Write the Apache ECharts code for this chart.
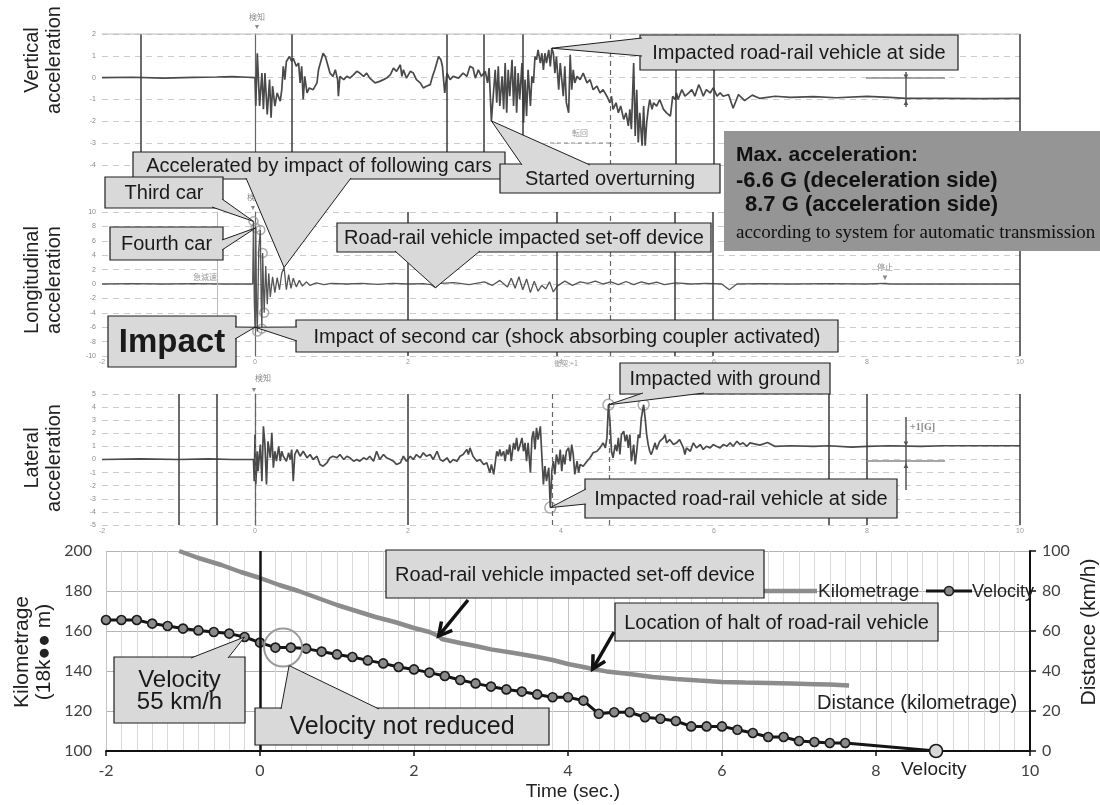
<!DOCTYPE html>
<html>
<head>
<meta charset="utf-8">
<script src="https://cdn.jsdelivr.net/npm/echarts@6/dist/echarts.min.js"></script>
<style>
html, body { margin: 0; padding: 0; background: #fff; }
#chart { width: 1100px; height: 805px; }
</style>
</head>
<body>
<div id="chart"></div>
<script>
"use strict"

// 上段3枚: 加速度波形 [時間(s), 加速度(G)]
var vertAccel = [[-2,0],[-1.6,0.02],[-1.2,-0.02],[-0.8,0.01],[-0.5,0.03],[-0.3,0.05],[-0.1,0.02],[0,0],
  [0.01,-1.3],[0.03,1.12],[0.06,-1.3],[0.09,0.21],[0.11,-1.44],[0.13,0.21],[0.16,-1.68],[0.19,-0.09],[0.21,-1.83],[0.23,-0.39],[0.26,-1.3],[0.29,-0.7],[0.33,-1.08],[0.35,-0.55],[0.37,0.52],[0.39,-0.09],[0.41,0.74],[0.45,0.97],[0.48,0.74],[0.5,0.89],[0.54,0.52],[0.57,0.67],[0.59,-0.24],[0.61,0.52],[0.63,-1.0],[0.65,0.06],[0.68,-0.7],[0.71,-0.47],[0.76,-0.55],[0.81,-0.24],[0.83,0.36],[0.86,0.74],[0.89,1.12],[0.92,0.97],[0.95,0.59],[0.98,0.21],[1.02,0.06],[1.05,0.36],[1.08,-0.09],[1.09,-0.85],[1.11,0.06],[1.16,-0.09],[1.2,0.06],[1.24,-0.02],[1.29,0.14],[1.33,0.29],[1.37,0.21],[1.42,0.06],[1.46,0.21],[1.5,-0.02],[1.57,-0.24],[1.63,-0.17],[1.68,-0.09],[1.72,-0.02],[1.77,0.14],[1.81,0.44],[1.85,0.29],[1.9,0.59],[1.92,0.06],[1.94,0.36],[1.98,-0.02],[2.03,0.29],[2.07,0.21],[2.11,-0.09],[2.16,-0.24],[2.2,-0.47],[2.24,-0.39],[2.29,-0.32],[2.32,0.06],[2.35,0.36],[2.4,0.97],[2.43,0.82],[2.45,0.52],[2.48,-0.7],[2.51,0.21],[2.55,-0.09],[2.59,0.06],[2.66,-0.02],[2.72,0.21],[2.77,0.06],[2.81,0.52],[2.85,0.44],[2.88,-0.02],[2.92,0.36],[2.96,0.06],[3.01,0.29],[3.04,-0.24],[3.06,0.44],[3.09,-1.98],
  [3.14,0.36],[3.16,-1.15],[3.18,0.52],[3.2,-1.3],[3.23,0.06],[3.25,-1.45],[3.27,0.67],[3.29,-1.61],[3.31,0.36],[3.33,-0.85],[3.36,0.82],[3.38,-1.3],[3.4,0.52],[3.42,-1.61],[3.44,0.21],[3.46,-1.0],[3.49,0.67],[3.51,-2.06],[3.53,-0.09],[3.55,-1.76],[3.57,0.36],[3.6,-1.3],[3.62,0.06],[3.64,-0.24],[3.66,0.97],[3.68,0.82],[3.7,1.27],[3.73,0.67],[3.75,1.12],[3.77,0.36],[3.79,1.12],[3.81,0.67],[3.84,1.27],[3.86,0.52],[3.88,1.35],[3.9,1.12],[3.92,0.21],[3.94,0.97],[3.97,-0.55],[3.99,0.67],[4.01,-0.09],[4.03,-0.85],[4.05,0.52],[4.07,-1.15],[4.1,-1.61],[4.12,1.05],[4.14,-0.55],[4.16,0.36],[4.18,-0.24],[4.21,0.06],[4.25,-0.09],[4.29,0.21],[4.34,-0.24],[4.38,-0.09],[4.42,-0.55],[4.47,-0.39],[4.51,-0.7],[4.55,-0.55],[4.6,-0.85],[4.64,-1.15],[4.66,-0.85],[4.68,-1.45],[4.72,-1.15],[4.75,-1.61],[4.78,-1.3],[4.82,-1.91],[4.85,-1.61],[4.88,-2.21],[4.9,-1.45],[4.92,-2.36],[4.95,0.67],[4.97,-2.67],[4.99,-0.55],[5.01,-2.97],[5.03,-1.61],[5.06,-3.12],[5.08,-1.3],[5.1,-3.12],[5.12,-2.06],[5.14,-1.45],[5.16,-1.0],[5.19,-1.45],[5.21,-1.15],[5.25,-1.3],[5.29,-1.0],[5.34,-1.45],[5.38,-1.61],[5.43,-1.76],[5.46,-0.85],[5.49,-1.0],[5.51,-0.7],[5.53,-1.0],[5.58,-0.55],[5.62,-0.85],[5.67,-0.7],[5.71,-0.55],[5.75,-0.85],[5.8,-0.32],[5.83,-0.55],[5.86,-0.85],[5.9,-0.55],[5.95,-0.7],[5.99,-0.47],[6.04,-0.85],[6.08,-0.7],[6.12,-0.85],[6.19,-0.77],[6.25,-1.4],[6.32,-0.77],
  [6.4,-1.05],[6.5,-0.8],[6.6,-0.95],[6.8,-0.85],[7.0,-0.9],[7.3,-0.87],[7.6,-0.92],[8.0,-0.86],[8.3,-0.9],[8.5,-0.95],[9.0,-0.95],[9.5,-0.96],[10,-0.95]];

var longAccel = [[-2,0],[-1.6,0.05],[-1.2,0],[-0.8,0.05],[-0.4,0],[-0.03,0],
  [-0.02,8.7],[-0.01,-2.0],[0,-6.0],[0.01,7.8],[0.02,-3.0],[0.03,-6.6],[0.05,5.0],[0.07,7.5],[0.08,-2.0],[0.09,-6.2],[0.1,4.3],[0.11,0],[0.12,-4.0],[0.14,2.5],[0.16,-2.8],[0.18,1.5],[0.2,-1.8],[0.23,1.0],[0.26,-1.2],[0.29,0.9],[0.32,-0.8],[0.35,1.5],[0.38,2.3],[0.41,-0.8],[0.44,1.3],[0.47,-0.6],[0.5,0.8],[0.54,-0.4],[0.58,0.5],[0.62,-0.3],[0.67,0.3],[0.72,-0.2],[0.8,0.15],[0.9,-0.1],[1.0,0.1],[1.2,0],[1.4,0.1],[1.6,-0.05],[1.8,0.1],[2.0,0],[2.2,0.05],[2.3,-0.1],[2.36,-0.5],[2.42,0.1],[2.6,0.2],[2.8,-0.1],[3.0,0.3],[3.1,-0.2],[3.2,0.5],[3.3,-0.4],[3.35,0.8],[3.4,-0.6],[3.45,1.0],[3.5,-0.8],[3.55,0.7],[3.6,-1.2],[3.65,0.4],[3.7,-1.0],[3.75,-0.2],[3.8,-0.7],[3.85,0.3],[3.9,-1.1],[3.95,-0.3],[4.05,0.4],[4.15,-0.2],[4.25,0.3],[4.35,0.1],[4.45,0.4],[4.55,0],[4.65,0.3],[4.75,-0.1],[4.85,0.35],[4.95,-0.1],[5.05,0.3],[5.15,0],[5.25,0.25],[5.35,-0.1],[5.5,0.15],[5.7,0],[5.9,0.1],[6.1,0],[6.2,-0.8],[6.3,0],[6.6,0.05],[7.0,0],[7.5,0.05],[8.0,0],[8.24,0.1],[8.3,0],[10,0]];

var latAccel = [[-2,0],[-1.5,0.05],[-1,0],[-0.6,0.05],[-0.3,0],[-0.02,0],
  [-0.01,-1.65],[0,1.9],[0.01,-1.9],[0.03,0.63],[0.04,-0.89],[0.07,1.14],[0.09,-1.65],[0.11,2.53],[0.13,1.14],[0.15,-1.9],[0.17,1.39],[0.2,0.13],[0.22,2.03],[0.24,-0.63],[0.26,0.63],[0.28,-0.13],[0.31,1.01],[0.33,-0.13],[0.35,0.63],[0.37,0.25],[0.41,-0.13],[0.44,0.51],[0.46,0],[0.48,0.76],[0.5,-1.65],[0.52,0.38],[0.55,0.76],[0.59,0.25],[0.63,0.63],[0.68,0.13],[0.72,0.38],[0.76,0],[0.81,0.25],[0.85,-0.38],[0.89,-0.51],[0.94,-0.25],[0.98,0.13],[1.02,0.25],[1.07,0.13],[1.11,0.38],[1.16,0],[1.2,0.25],[1.24,0.13],[1.29,-0.13],[1.33,0],[1.37,-0.13],[1.42,0.13],[1.46,0],[1.5,0.25],[1.55,-0.13],[1.59,0.63],[1.63,0],[1.68,0.38],[1.72,0.13],[1.77,0],[1.81,-0.13],[1.85,-0.38],[1.9,-0.25],[1.94,0.25],[1.98,-0.13],[2.03,0.25],[2.07,0],[2.11,0.38],[2.16,0.13],[2.2,0.51],[2.24,0.25],[2.29,0.38],[2.33,0],[2.38,0.63],[2.42,0],[2.46,-0.13],[2.51,0.13],[2.55,-0.25],[2.59,0],[2.64,-0.13],[2.68,0.25],[2.72,0.38],[2.77,0.76],[2.79,0.38],[2.81,0.89],[2.85,0.25],[2.9,-0.13],[2.94,0],[2.99,-0.38],[3.03,-0.25],[3.07,-1.01],[3.09,-0.38],[3.12,-1.14],[3.14,-0.25],[3.16,0.63],[3.18,0.25],[3.2,0.76],
  [3.22,0.25],[3.25,0.63],[3.27,-0.13],[3.29,0.76],[3.31,0.38],[3.33,1.14],[3.35,-0.13],[3.38,1.27],[3.4,0.76],[3.42,1.65],[3.44,0.63],[3.46,1.01],[3.49,1.65],[3.51,0.63],[3.53,1.27],[3.55,-0.13],[3.57,1.27],[3.6,-1.01],[3.62,1.65],[3.64,2.16],[3.66,0.76],[3.68,2.41],[3.7,1.52],[3.73,2.53],[3.75,0.25],[3.77,-1.9],[3.79,-0.51],[3.81,-1.65],[3.84,-0.63],[3.86,-3.67],[3.88,-0.89],[3.9,-0.13],[3.92,-1.14],[3.94,0.38],[3.97,-0.38],[3.99,0.76],[4.01,-0.89],[4.03,0.38],[4.05,-0.38],[4.07,0.63],[4.1,0.89],[4.12,-0.13],[4.14,1.14],[4.16,0.38],[4.18,-1.14],[4.21,-0.13],[4.23,-1.01],[4.25,-0.38],[4.29,-0.51],[4.34,-0.13],[4.38,0.13],[4.42,0.51],[4.47,0.63],[4.51,0.89],[4.55,1.27],[4.58,0.89],[4.6,1.65],[4.62,4.18],[4.64,2.91],[4.66,0.63],[4.68,0.13],[4.71,1.14],[4.73,0.63],[4.75,1.65],[4.77,0.38],[4.79,1.9],[4.82,2.16],[4.84,1.39],[4.86,1.9],[4.88,0.89],[4.9,1.9],[4.92,-0.13],[4.95,1.14],[4.97,-0.38],[4.99,0.63],[5.01,1.9],[5.03,1.65],[5.05,3.16],[5.08,4.18],[5.1,3.16],[5.12,1.9],[5.14,1.14],[5.16,0.63],[5.18,0.38],[5.21,0.89],[5.23,1.27],[5.25,0.76],[5.29,1.39],[5.34,1.65],[5.36,1.9],[5.38,1.27],[5.42,1.52],[5.47,1.14],[5.51,1.27],[5.55,1.52],[5.6,0.89],[5.62,0.38],[5.64,0.89],[5.69,0.63],[5.73,1.27],[5.77,0.89],[5.82,1.14],[5.86,0.76],[5.9,1.01],[5.95,0.89],[5.99,1.14],[6.03,1.01],[6.08,0.89],[6.12,1.14],[6.17,1.01],[6.21,1.27],[6.25,1.01],[6.3,1.39],[6.34,1.14],[6.38,1.27],[6.43,1.01],[6.47,1.27],[6.6,1.1],[6.7,1.3],[6.8,1.0],[7.0,1.05],[7.3,1.0],[7.5,1.05],[7.8,0.95],[8.0,1.0],[8.3,1.05],[8.7,1.0],[9.0,1.05],[10,1.05]];

// 丸印のピーク
var longPeaks = [[-0.02,8.7],[0.01,7.8],[0.07,7.5],[0.1,4.3],[0.12,-4.0],[0.09,-6.2],[0.03,-6.6]];
var latPeaks = [[3.86,-3.67],[4.62,4.18],[5.08,4.18]];

// 記録紙上の縦線(時刻)
var vertEventT = [-1.5, 0.48, 2.5, 2.99, 3.5, 5.5, 6.0, 10];
var vertDashT = [4.65];
var longEventT = [2.0, 3.95, 5.49, 5.99, 10];
var longLightT = [-0.5];
var longDashT = [4.64];
var latEventT = [-1.0, -0.5, 2.0, 7.5, 8.0, 10];
var latDashT = [0, 3.88, 4.63];

// 下段: キロ程と速度
var kmTime = [-1.05,-0.8,-0.5,-0.25,0,0.25,0.5,0.75,1.0,1.25,1.5,1.75,2.0,2.2,2.32,2.36,2.6,2.8,3.0,3.3,3.6,3.8,4.0,4.2,4.32,4.5,4.8,5.1,5.4,5.7,6.0,6.3,6.6,6.9,7.2,7.4,7.65];
var kmValue = [200,196.5,193,189.5,186.5,183,180,176.5,173,170,167,164.5,161.5,159.5,157.5,156,154,152.5,150.8,149,147,145.5,143.5,142,141,139.8,138.5,137,136,135.2,134.5,134.2,134,133.7,133.4,133.2,132.8];
var velTime = [-2,-1.8,-1.6,-1.4,-1.2,-1,-0.8,-0.6,-0.4,-0.2,0,0.2,0.4,0.6,0.8,1,1.2,1.4,1.6,1.8,2,2.2,2.4,2.6,2.8,3,3.2,3.4,3.6,3.8,4,4.2,4.4,4.6,4.8,5,5.2,5.4,5.6,5.8,6,6.2,6.4,6.6,6.8,7,7.2,7.4,7.6,8.78];
var velValue = [65.5,65.5,65.5,63.7,62.5,61.2,60.3,59.5,58.7,57,54.2,51.7,51.7,51.2,49.7,48.3,47,45.3,43.8,42,40.8,39.2,37.5,35.5,33.8,32.2,30.8,29.7,28.3,26.9,26.9,25.2,18.6,19.4,19.4,16.9,16.1,15,12.3,12.3,12.3,10.6,9.0,7.0,7.0,5.0,4.5,4.0,4.0,0];

var FONT = '"Liberation Sans", Arial, sans-serif';
var chart = echarts.init(document.getElementById("chart"));

function topX(idx, show) {
    return {
        type: "value", gridIndex: idx, min: -2, max: 10, interval: 2,
        axisLine: { show: false }, axisTick: { show: false }, splitLine: { show: false },
        axisLabel: { show: show, fontSize: 7, color: "#999", margin: 3 }
    };
}
function topY(idx, min, max, step) {
    return {
        type: "value", gridIndex: idx, min: min, max: max, interval: step,
        axisLine: { show: true, lineStyle: { color: "#666", width: 1.2 } },
        axisTick: { show: false },
        axisLabel: { fontSize: 7, color: "#888", margin: 6 },
        splitLine: { show: true, lineStyle: { color: "#cccccc", type: [6, 5], width: 1 } }
    };
}
function eventLines(solid, dashed, light) {
    var data = [];
    solid.forEach(function (t) { data.push({ xAxis: t }); });
    dashed.forEach(function (t) { data.push({ xAxis: t, lineStyle: { type: [5, 4], color: "#666", width: 1.2 } }); });
    light.forEach(function (t) { data.push({ xAxis: t, lineStyle: { color: "#bbb", width: 1 } }); });
    return {
        silent: true, symbol: "none", label: { show: false }, animation: false,
        lineStyle: { color: "#3a3a3a", width: 1.5, type: "solid" }, data: data
    };
}

var velData = velTime.map(function (t, i) { return [t, velValue[i]]; });
velData[velData.length - 1] = { value: velData[velData.length - 1], symbolSize: 13, itemStyle: { color: "#d8d8d8" } };

var option = {
    animation: false,
    grid: [
        { left: 102, top: 34, width: 918, height: 131 },
        { left: 102, top: 212, width: 918, height: 144 },
        { left: 102, top: 394, width: 918, height: 131 },
        { left: 106, top: 551, width: 924, height: 200 }
    ],
    xAxis: [
        topX(0, false), topX(1, true), topX(2, true),
        {
            type: "value", gridIndex: 3, min: -2, max: 10, interval: 2,
            axisLine: { show: true, lineStyle: { color: "#111", width: 2 } },
            axisTick: { show: true, length: 5, lineStyle: { color: "#111", width: 1.5 } },
            axisLabel: { fontSize: 16, color: "#404040", fontFamily: "Lato", margin: 12 },
            splitLine: { show: true, lineStyle: { color: "#c4c4c4" } },
            minorTick: { show: false, splitNumber: 10 },
            minorSplitLine: { show: true, lineStyle: { color: "#dadada" } }
        }
    ],
    yAxis: [
        topY(0, -4, 2, 1), topY(1, -10, 10, 2), topY(2, -5, 5, 1),
        {
            type: "value", gridIndex: 3, min: 100, max: 200, interval: 20,
            axisLine: { show: false }, axisTick: { show: false },
            axisLabel: { fontSize: 16, color: "#404040", fontFamily: "Lato", margin: 14 },
            splitLine: { show: true, lineStyle: { color: "#b5b5b5", width: 1.2 } }
        },
        {
            type: "value", gridIndex: 3, min: 0, max: 100, interval: 20, position: "right",
            axisLine: { show: true, lineStyle: { color: "#111", width: 2 } },
            axisTick: { show: true, length: 6, lineStyle: { color: "#111", width: 1.5 } },
            axisLabel: { fontSize: 16, color: "#404040", fontFamily: "Lato", margin: 12 },
            splitLine: { show: false }
        }
    ],
    series: [
        {
            type: "line", xAxisIndex: 0, yAxisIndex: 0, data: vertAccel, symbol: "none", silent: true,
            lineStyle: { color: "#4a4a4a", width: 1.7 }, markLine: eventLines(vertEventT, vertDashT, [])
        },
        {
            type: "line", xAxisIndex: 1, yAxisIndex: 1, data: longAccel, symbol: "none", silent: true,
            lineStyle: { color: "#555", width: 1.3 }, markLine: eventLines(longEventT, longDashT, longLightT)
        },
        {
            type: "line", xAxisIndex: 2, yAxisIndex: 2, data: latAccel, symbol: "none", silent: true,
            lineStyle: { color: "#4a4a4a", width: 1.7 }, markLine: eventLines(latEventT, latDashT, [])
        },
        {
            name: "Kilometrage", type: "line", xAxisIndex: 3, yAxisIndex: 3, silent: true,
            data: kmTime.map(function (t, i) { return [t, kmValue[i]]; }),
            symbol: "none", lineStyle: { color: "#8c8c8c", width: 4.5 }
        },
        {
            name: "Velocity", type: "line", xAxisIndex: 3, yAxisIndex: 4, silent: true, data: velData,
            symbol: "circle", symbolSize: 9,
            lineStyle: { color: "#151515", width: 3 },
            itemStyle: { color: "#8a8a8a", borderColor: "#1a1a1a", borderWidth: 1.6 },
            markLine: {
                silent: true, symbol: "none", label: { show: false },
                lineStyle: { color: "#111", width: 2.5, type: "solid" }, data: [{ xAxis: 0 }]
            }
        },
        {
            type: "scatter", xAxisIndex: 1, yAxisIndex: 1, data: longPeaks, silent: true, symbolSize: 9,
            itemStyle: { color: "rgba(0,0,0,0)", borderColor: "#999", borderWidth: 1.5 }
        },
        {
            type: "scatter", xAxisIndex: 2, yAxisIndex: 2, data: latPeaks, silent: true, symbolSize: 11,
            itemStyle: { color: "rgba(0,0,0,0)", borderColor: "#999", borderWidth: 1.5 }
        }
    ]
};
chart.setOption(option);

// 吹き出し (先端はデータ座標から)
function at(s, p) { return chart.convertToPixel({ seriesIndex: s }, p); }
var G = [];
var zz = 100;
function callout(box, base, tip, text, font, lh) {
    var fill = "#d9d9d9";
    var pts = [base[0], tip, base[1]];
    G.push({ type: "rect", shape: { x: box[0], y: box[1], width: box[2], height: box[3] },
        style: { fill: fill, stroke: "#1e1e1e", lineWidth: 1.2 }, z: zz });
    G.push({ type: "polygon", shape: { points: pts }, style: { fill: fill }, z: zz + 1 });
    G.push({ type: "polyline", shape: { points: pts }, style: { stroke: "#1e1e1e", lineWidth: 1, fill: null }, z: zz + 2 });
    G.push({ type: "text", x: box[0] + box[2] / 2, y: box[1] + box[3] / 2 + 1, z: zz + 3,
        style: { text: text, font: font, fill: "#1a1a1a", align: "center", verticalAlign: "middle", lineHeight: lh || 22 } });
    zz += 4;
}
function plainBox(box, text, font) {
    G.push({ type: "rect", shape: { x: box[0], y: box[1], width: box[2], height: box[3] },
        style: { fill: "#d9d9d9", stroke: "#1e1e1e", lineWidth: 1.2 }, z: zz });
    G.push({ type: "text", x: box[0] + box[2] / 2, y: box[1] + box[3] / 2 + 1, z: zz + 1,
        style: { text: text, font: font, fill: "#1a1a1a", align: "center", verticalAlign: "middle" } });
    zz += 4;
}
function arrow(from, to) {
    var dx = to[0] - from[0], dy = to[1] - from[1], len = Math.sqrt(dx * dx + dy * dy);
    var ux = dx / len, uy = dy / len, hl = 13, hw = 7;
    var bx = to[0] - ux * hl, by = to[1] - uy * hl;
    G.push({ type: "line", shape: { x1: from[0], y1: from[1], x2: to[0] - ux * 2, y2: to[1] - uy * 2 },
        style: { stroke: "#111", lineWidth: 3.5 }, z: 150 });
    G.push({ type: "polyline", shape: { points: [[bx - uy * hw, by + ux * hw], to, [bx + uy * hw, by - ux * hw]] },
        style: { stroke: "#111", lineWidth: 3.5, fill: null }, z: 150 });
}
function label(x, y, text, font, color, align, rot) {
    G.push({ type: "text", x: x, y: y, rotation: rot || 0, z: 90,
        style: { text: text, font: font, fill: color || "#222", align: align || "center", verticalAlign: "middle", lineHeight: 22 } });
}
function seg(x1, y1, x2, y2, color, w, dash) {
    G.push({ type: "line", shape: { x1: x1, y1: y1, x2: x2, y2: y2 },
        style: { stroke: color, lineWidth: w, lineDash: dash || null }, z: 80 });
}

var F20 = "20px " + FONT;
var JP = '"Noto Sans CJK JP", sans-serif';

// 上段の小さな注記
label(257, 17, "検知", "8px " + JP, "#8a8a8a");
label(257, 27, "▼", "7px " + FONT, "#888");
label(255, 197, "検知", "8px " + JP, "#8a8a8a");
label(253, 208, "▼", "7px " + FONT, "#888");
label(263, 378, "検知", "8px " + JP, "#8a8a8a");
label(254, 390, "▼", "7px " + FONT, "#888");
label(205, 277, "急減速", "8px " + JP, "#9a9a9a");
label(885, 267, "停止", "8px " + JP, "#8a8a8a");
label(885, 278, "▼", "8px " + FONT, "#888");
label(580, 133, "転回", "8px " + JP, "#9a9a9a");
seg(550, 143, 610, 143, "#888", 1, [4, 3]);
label(566, 363, "衝突:+1", "7px " + JP, "#999");
seg(102, 34, 1020, 34, "#bbb", 1);
// +1[G] scale marks
seg(866, 78, 945, 78, "#888", 1.5);
seg(906, 72, 906, 107, "#555", 1.5);
label(906, 77, "▼", "8px " + FONT, "#555");
label(906, 103, "▲", "8px " + FONT, "#555");
seg(867, 461, 945, 461, "#888", 1.5);
seg(906, 417, 906, 490, "#555", 1.5);
label(906, 444, "▼", "8px " + FONT, "#555");
label(906, 466, "▲", "8px " + FONT, "#555");
label(910, 427, "+1[G]", "bold 10px " + '"Liberation Serif", serif', "#888", "left");

// 左の軸名
label(43, 60, "Vertical\nacceleration", "20px " + FONT, "#222", "center", Math.PI / 2);
label(43, 280, "Longitudinal\nacceleration", "20px " + FONT, "#222", "center", Math.PI / 2);
label(43, 458, "Lateral\nacceleration", "20px " + FONT, "#222", "center", Math.PI / 2);
label(33, 652, "Kilometrage\n(18k●● m)", "21px " + FONT, "#222", "center", Math.PI / 2);
label(1089, 632, "Distance (km/h)", "21px " + FONT, "#222", "center", Math.PI / 2);
label(573, 792, "Time (sec.)", "19px " + FONT, "#222");
label(817, 703, "Distance (kilometrage)", "20px " + FONT, "#222", "left");
label(901, 770, "Velocity", "19px " + FONT, "#222", "left");

// 凡例
seg(764, 591, 817, 591, "#8c8c8c", 4.5);
label(818, 592, "Kilometrage", "19px " + FONT, "#222", "left");
seg(926, 591, 972, 591, "#151515", 3);
G.push({ type: "circle", shape: { cx: 949, cy: 591, r: 4.5 }, style: { fill: "#8a8a8a", stroke: "#1a1a1a", lineWidth: 1.6 }, z: 91 });
label(972, 592, "Velocity", "18px " + FONT, "#222", "left");

// 吹き出し
callout([133, 152, 372, 27], [[246, 178], [351, 178]], at(1, [0.38, 2.3]), "Accelerated by impact of following cars", F20);
callout([640, 35, 318, 35], [[642, 38], [642, 56]], at(0, [3.88, 1.35]), "Impacted road-rail vehicle at side", F20);
callout([500, 164, 220, 29], [[522, 165], [590, 165]], at(0, [3.09, -1.98]), "Started overturning", F20);
callout([105, 177, 118, 31], [[212, 207], [222, 199]], at(1, [-0.02, 8.7]), "Third car", F20);
callout([110, 227, 113, 33], [[222, 240], [222, 250]], at(1, [0.01, 7.8]), "Fourth car", F20);
callout([337, 223, 374, 29], [[395, 251], [480, 251]], at(1, [2.36, -0.5]), "Road-rail vehicle impacted set-off device", F20);
callout([108, 316, 128, 51], [[235, 327], [235, 339]], at(1, [0, -6.0]), "Impact", "bold 33px " + FONT);
callout([296, 320, 542, 32], [[297, 327], [297, 341]], at(1, [0, -6.0]), "Impact of second car (shock absorbing coupler activated)", F20);
callout([620, 363, 210, 31], [[643, 393], [704, 393]], at(2, [4.62, 4.18]), "Impacted with ground", F20);
callout([585, 479, 312, 39], [[586, 489], [586, 504]], at(2, [3.86, -3.67]), "Impacted road-rail vehicle at side", F20);

// 最大加速度
G.push({ type: "rect", shape: { x: 724, y: 131, width: 376, height: 120 }, style: { fill: "#959595" }, z: 160 });
G.push({ type: "text", x: 736, y: 155, z: 161, style: { text: "Max. acceleration:", font: "bold 21px " + FONT, fill: "#111", verticalAlign: "middle" } });
G.push({ type: "text", x: 736, y: 181, z: 161, style: { text: "-6.6 G (deceleration side)", font: "bold 22px " + FONT, fill: "#111", verticalAlign: "middle" } });
G.push({ type: "text", x: 745, y: 205, z: 161, style: { text: "8.7 G (acceleration side)", font: "bold 22px " + FONT, fill: "#111", verticalAlign: "middle" } });
G.push({ type: "text", x: 736, y: 233, z: 161, style: { text: "according to system for automatic transmission", font: '19px "Liberation Serif", serif', fill: "#111", verticalAlign: "middle" } });

// 下段の吹き出し
plainBox([386, 550, 378, 48], "Road-rail vehicle impacted set-off device", F20);
arrow([468, 600], at(3, [2.32, 157.5]));
plainBox([615, 603, 323, 38], "Location of halt of road-rail vehicle", F20);
arrow([614, 632], at(3, [4.32, 141]));
callout([114, 657, 131, 66], [[191, 658], [228, 658]], at(4, [-0.2, 57]), "Velocity\n55 km/h", "24px " + FONT, 22);
var c = at(4, [0.3, 51.7]);
G.push({ type: "circle", shape: { cx: c[0], cy: c[1], r: 19 }, style: { fill: null, stroke: "#9a9a9a", lineWidth: 2 }, z: 95 });
callout([255, 708, 294, 37], [[281, 709], [379, 709]], [c[0] + 6, c[1] + 18], "Velocity not reduced", "25px " + FONT);

chart.setOption({ graphic: G });
</script>
</body>
</html>
